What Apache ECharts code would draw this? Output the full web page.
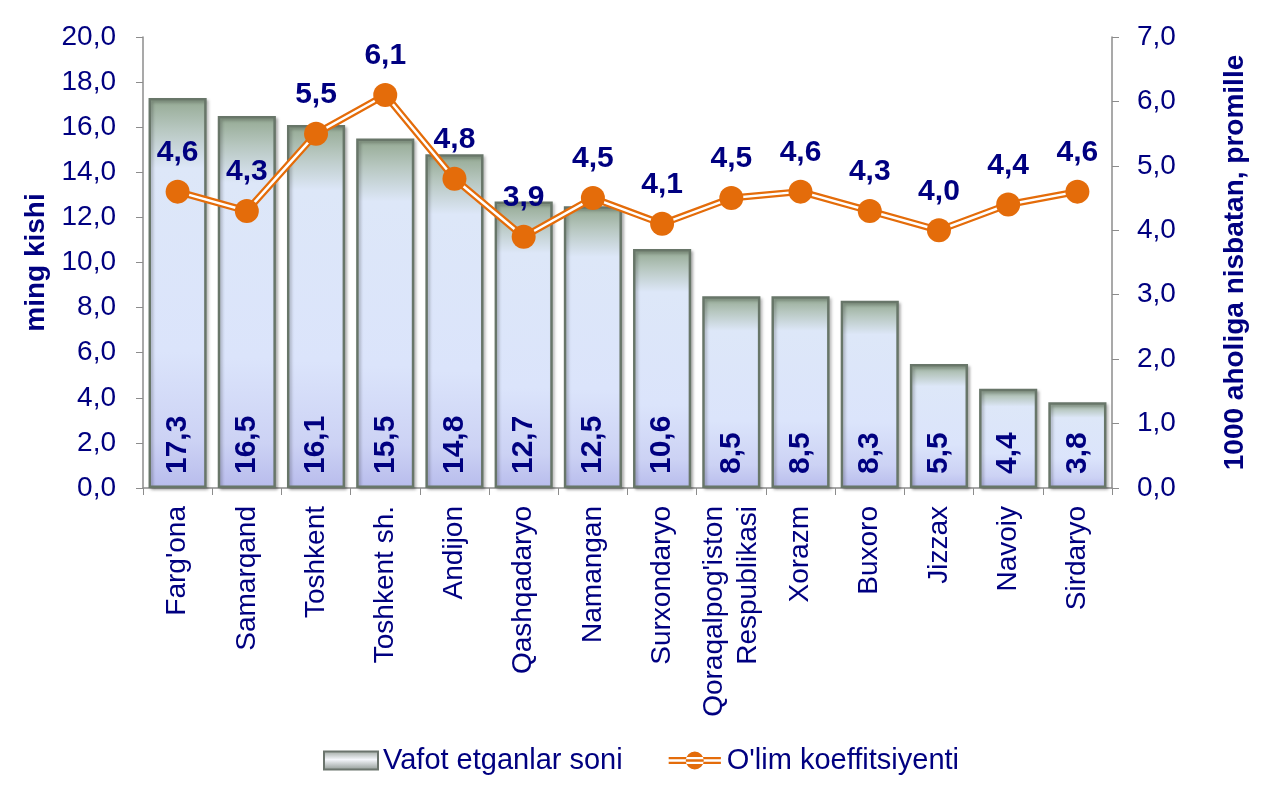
<!DOCTYPE html>
<html><head><meta charset="utf-8">
<script src="https://cdn.jsdelivr.net/npm/echarts@6/dist/echarts.min.js"></script>
<style>html,body{margin:0;padding:0;background:#fff}#c{width:1264px;height:792px}</style>
</head><body><div id="c"></div>
<script>
const categories = ["Farg'ona","Samarqand","Toshkent","Toshkent sh.","Andijon","Qashqadaryo","Namangan","Surxondaryo","Qoraqalpog'iston\nRespublikasi","Xorazm","Buxoro","Jizzax","Navoiy","Sirdaryo"];
const deaths = [17.3,16.5,16.1,15.5,14.8,12.7,12.5,10.6,8.5,8.5,8.3,5.5,4.4,3.8];
const rate = [4.6,4.3,5.5,6.1,4.8,3.9,4.5,4.1,4.5,4.6,4.3,4.0,4.4,4.6];
const leftTicks = {min:0,max:20,interval:2};
const rightTicks = {min:0,max:7,interval:1};

const navy = '#000080';
const orange = '#E46C0A';
const font = 'Liberation Sans, Arial, sans-serif';
const fmt = v => Number(v).toFixed(1).replace('.', ',');

const chart = echarts.init(document.getElementById('c'));
chart.setOption({
  animation:false,
  textStyle:{fontFamily:font},
  grid:{left:143,right:152,top:37,bottom:304},
  legend:{
    top:741,left:318,itemGap:46,
    textStyle:{color:navy,fontSize:29,fontFamily:font},
    itemWidth:54,itemHeight:18,
    data:[
      {name:'Vafot etganlar soni',icon:'rect',
       itemStyle:{color:new echarts.graphic.LinearGradient(0,0,0,1,[
         {offset:0,color:'#9aa39c'},{offset:0.45,color:'#f4f6fb'},{offset:1,color:'#8c9590'}]),
         borderColor:'#6b746d',borderWidth:2}},
      {name:"O'lim koeffitsiyenti",
       icon:'path://M0,6 L58,6 L58,8.5 L0,8.5 Z M0,11.5 L58,11.5 L58,14 L0,14 Z M19,10 A10,10 0 1 0 39,10 A10,10 0 1 0 19,10 Z',
       itemStyle:{color:orange,borderWidth:0}}
    ]
  },
  xAxis:{
    type:'category',data:categories,
    axisLine:{lineStyle:{color:'#8c8c8c',width:1.5}},
    axisTick:{show:true,alignWithLabel:false,length:7,lineStyle:{color:'#8c8c8c'}},
    axisLabel:{interval:0,rotate:90,color:navy,fontSize:28,fontFamily:font,margin:18,lineHeight:34}
  },
  yAxis:[
    {type:'value',min:leftTicks.min,max:leftTicks.max,interval:leftTicks.interval,
     name:'ming kishi',nameLocation:'middle',nameGap:88,
     nameTextStyle:{color:navy,fontSize:28,fontWeight:'bold',fontFamily:font},
     axisLine:{show:true,lineStyle:{color:'#8c8c8c',width:1.5}},
     axisTick:{show:true,length:7,lineStyle:{color:'#8c8c8c'}},
     splitLine:{show:false},
     axisLabel:{color:navy,fontSize:28,fontFamily:font,margin:27,formatter:fmt}},
    {type:'value',min:rightTicks.min,max:rightTicks.max,interval:rightTicks.interval,position:'right',
     name:'1000 aholiga nisbatan, promille',nameLocation:'middle',nameGap:109,nameRotate:90,
     nameTextStyle:{color:navy,fontSize:28,fontWeight:'bold',fontFamily:font},
     axisLine:{show:true,lineStyle:{color:'#8c8c8c',width:1.5}},
     axisTick:{show:true,length:7,lineStyle:{color:'#8c8c8c'}},
     splitLine:{show:false},
     axisLabel:{color:navy,fontSize:28,fontFamily:font,margin:25,formatter:fmt}}
  ],
  series:[
    {name:'Vafot etganlar soni',type:'bar',data:deaths,barCategoryGap:'16%',yAxisIndex:0,
     itemStyle:{
       color:new echarts.graphic.LinearGradient(0,0,0,1,[
         {offset:0,color:'#93a891'},
         {offset:0.08,color:'#b7c7c0'},
         {offset:0.18,color:'#dde7f8'},
         {offset:0.65,color:'#dbe4fb'},
         {offset:0.88,color:'#ccd2f4'},
         {offset:1,color:'#b8bcec'}
       ]),
       borderColor:'#687669',borderWidth:2.5,
       shadowColor:'rgba(0,0,0,0.25)',shadowBlur:3,shadowOffsetX:2,shadowOffsetY:2
     },
     label:{show:true,position:'insideBottom',rotate:90,align:'left',verticalAlign:'middle',distance:14,
       color:navy,fontSize:30,fontWeight:'bold',fontFamily:font,formatter:p=>fmt(p.value)}
    },
    {name:'line-outer',type:'line',data:rate,yAxisIndex:1,symbol:'none',z:3,
     lineStyle:{color:orange,width:7},silent:true},
    {name:'line-inner',type:'line',data:rate,yAxisIndex:1,symbol:'none',z:4,
     lineStyle:{color:'#ffffff',width:2.5},silent:true},
    {name:"O'lim koeffitsiyenti",type:'line',data:rate,yAxisIndex:1,z:5,
     symbol:'circle',symbolSize:24,
     itemStyle:{color:orange},
     lineStyle:{width:0,opacity:0},
     label:{show:true,position:'top',distance:12,color:navy,fontSize:30,fontWeight:'bold',fontFamily:font,formatter:p=>fmt(p.value)}
    }
  ]
});
</script></body></html>
